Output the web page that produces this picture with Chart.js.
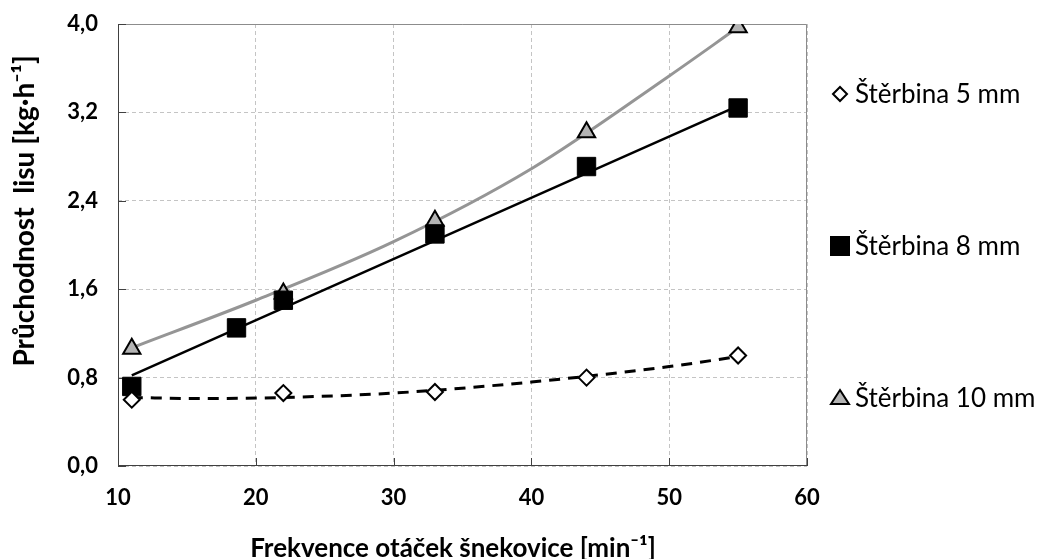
<!DOCTYPE html>
<html>
<head>
<meta charset="utf-8">
<script src="https://cdn.jsdelivr.net/npm/chart.js@4/dist/chart.umd.min.js"></script>
<style>
  html, body { margin: 0; padding: 0; background: #fff; }
  #wrap { width: 1039px; height: 559px; }
</style>
</head>
<body>
<div id="wrap"><canvas id="lis"></canvas></div>
<script>
// measured points
const freq = [11, 22, 33, 44, 55];
const sterbina5 = [0.60, 0.66, 0.67, 0.80, 1.00];
const freq8 = [11, 18.6, 22, 33, 44, 55];
const sterbina8 = [0.72, 1.25, 1.50, 2.10, 2.71, 3.24];
const sterbina10 = [1.06, 1.56, 2.22, 3.02, 3.97];

// trend lines
const trendX5 = [11, 16, 22, 30, 40, 50, 55];
const trend5 = [0.62, 0.61, 0.62, 0.66, 0.76, 0.90, 0.99];
const trendX8 = [11, 55];
const trend8 = [0.82, 3.26];
const trendX10 = [11, 20, 30, 40, 50, 55];
const trend10 = [1.07, 1.50, 2.03, 2.69, 3.53, 3.97];

const seriesNames = ["Štěrbina 5 mm", "Štěrbina 8 mm", "Štěrbina 10 mm"];

const pts = (xs, ys) => xs.map((x, i) => ({ x: x, y: ys[i] }));

const FONT = "Lato, 'Open Sans', sans-serif";

// frame, inner tick marks and the legend on the right
const frame = {
  id: "frame",
  beforeDatasetsDraw(chart) {
    const { ctx, chartArea: a, scales } = chart;
    ctx.save();
    ctx.lineWidth = 1;
    ctx.strokeStyle = "#8c8c8c";
    ctx.beginPath();
    ctx.moveTo(a.left, a.top + 0.5);
    ctx.lineTo(a.right - 0.5, a.top + 0.5);
    ctx.lineTo(a.right - 0.5, a.bottom);
    ctx.stroke();
    ctx.strokeStyle = "#404040";
    ctx.beginPath();
    ctx.moveTo(a.left + 0.5, a.top);
    ctx.lineTo(a.left + 0.5, a.bottom - 0.5);
    ctx.lineTo(a.right, a.bottom - 0.5);
    scales.y.ticks.forEach(t => {
      const y = Math.round(scales.y.getPixelForValue(t.value)) + 0.5;
      ctx.moveTo(a.left, y);
      ctx.lineTo(a.left + 8, y);
    });
    scales.x.ticks.forEach(t => {
      const x = Math.round(scales.x.getPixelForValue(t.value)) + 0.5;
      ctx.moveTo(x, a.bottom);
      ctx.lineTo(x, a.bottom - 8);
    });
    ctx.stroke();
    ctx.restore();
  },
  afterDraw(chart) {
    const { ctx, chartArea: a } = chart;
    const mid = (a.top + a.bottom) / 2;
    const x0 = a.right + 33;
    ctx.save();
    ctx.font = "26px " + FONT;
    ctx.textBaseline = "middle";
    [0, 2, 4].forEach((di, i) => {
      const ds = chart.data.datasets[di];
      const y = mid + (i - 1) * 152 + 1;
      ctx.lineWidth = 2;
      ctx.strokeStyle = "#000";
      ctx.fillStyle = ds.pointBackgroundColor;
      ctx.beginPath();
      if (ds.pointStyle === "rectRot") {
        ctx.moveTo(x0 - 7, y); ctx.lineTo(x0, y - 7);
        ctx.lineTo(x0 + 7, y); ctx.lineTo(x0, y + 7);
      } else if (ds.pointStyle === "rect") {
        ctx.rect(x0 - 9, y - 9, 18, 18);
      } else {
        ctx.moveTo(x0, y - 8); ctx.lineTo(x0 + 9, y + 6); ctx.lineTo(x0 - 9, y + 6);
      }
      ctx.closePath();
      ctx.fill();
      ctx.stroke();
      ctx.fillStyle = "#000";
      ctx.fillText(ds.label, x0 + 15, y + 1);
    });
    ctx.restore();
  }
};

new Chart(document.getElementById("lis"), {
  type: "scatter",
  data: {
    datasets: [
      {
        label: seriesNames[0],
        data: pts(freq, sterbina5),
        pointStyle: "rectRot",
        pointRadius: 8,
        pointHoverRadius: 8,
        pointBackgroundColor: "#ffffff",
        pointBorderColor: "#000000",
        pointBorderWidth: 2,
        order: 0,
      },
      {
        label: "trend 5",
        data: pts(trendX5, trend5),
        showLine: true,
        pointRadius: 0,
        borderColor: "#000000",
        borderWidth: 3,
        borderDash: [11, 8],
        cubicInterpolationMode: "monotone",
        order: 1,
      },
      {
        label: seriesNames[1],
        data: pts(freq8, sterbina8),
        pointStyle: "rect",
        pointRadius: 13,
        pointHoverRadius: 13,
        pointBackgroundColor: "#000000",
        pointBorderColor: "#000000",
        pointBorderWidth: 1,
        order: 0,
      },
      {
        label: "trend 8",
        data: pts(trendX8, trend8),
        showLine: true,
        pointRadius: 0,
        borderColor: "#000000",
        borderWidth: 2.5,
        order: 1,
      },
      {
        label: seriesNames[2],
        data: pts(freq, sterbina10),
        pointStyle: "triangle",
        pointRadius: 10,
        pointHoverRadius: 10,
        pointBackgroundColor: "#b4b4b4",
        pointBorderColor: "#000000",
        pointBorderWidth: 2,
        order: 0,
      },
      {
        label: "trend 10",
        data: pts(trendX10, trend10),
        showLine: true,
        pointRadius: 0,
        borderColor: "#959595",
        borderWidth: 3,
        cubicInterpolationMode: "monotone",
        order: 1,
      },
    ],
  },
  options: {
    responsive: true,
    maintainAspectRatio: false,
    animation: false,
    events: [],
    layout: { padding: { top: 24, right: 232, left: 0, bottom: 0 } },
    plugins: {
      legend: { display: false },
      tooltip: { enabled: false },
    },
    scales: {
      x: {
        type: "linear",
        min: 10,
        max: 60,
        afterFit: s => {
          s.height = 93;
          s.paddingLeft = 0;
          s.paddingRight = 0;
        },
        ticks: {
          stepSize: 10,
          color: "#000",
          padding: 19,
          font: { family: FONT, size: 22, weight: "bold" },
        },
        grid: { color: "#c4c4c4", drawTicks: false },
        border: { display: false, dash: [4, 3] },
        title: {
          display: true,
          // trailing spaces nudge the centred title a little to the left
          text: "Frekvence otáček šnekovice [min⁻¹]   ",
          color: "#000",
          font: { family: FONT, size: 26, weight: "bold", lineHeight: 0.8 },
          padding: { top: 27, bottom: 0 },
        },
      },
      y: {
        min: 0,
        max: 4,
        afterFit: s => {
          s.width = 118;
          s.paddingTop = 0;
          s.paddingBottom = 0;
        },
        ticks: {
          stepSize: 0.8,
          color: "#000",
          padding: 20,
          font: { family: FONT, size: 22, weight: "bold" },
          callback: v => v.toFixed(1).replace(".", ","),
        },
        grid: { color: "#c4c4c4", drawTicks: false },
        border: { display: false, dash: [4, 3] },
        title: {
          display: true,
          // leading spaces lift the rotated title, as in the original
          text: "          Průchodnost  lisu [kg·h⁻¹]",
          color: "#000",
          font: { family: FONT, size: 28, weight: "bold", lineHeight: 1 },
          padding: { top: 11, bottom: 0 },
        },
      },
    },
  },
  plugins: [frame],
});
</script>
</body>
</html>
